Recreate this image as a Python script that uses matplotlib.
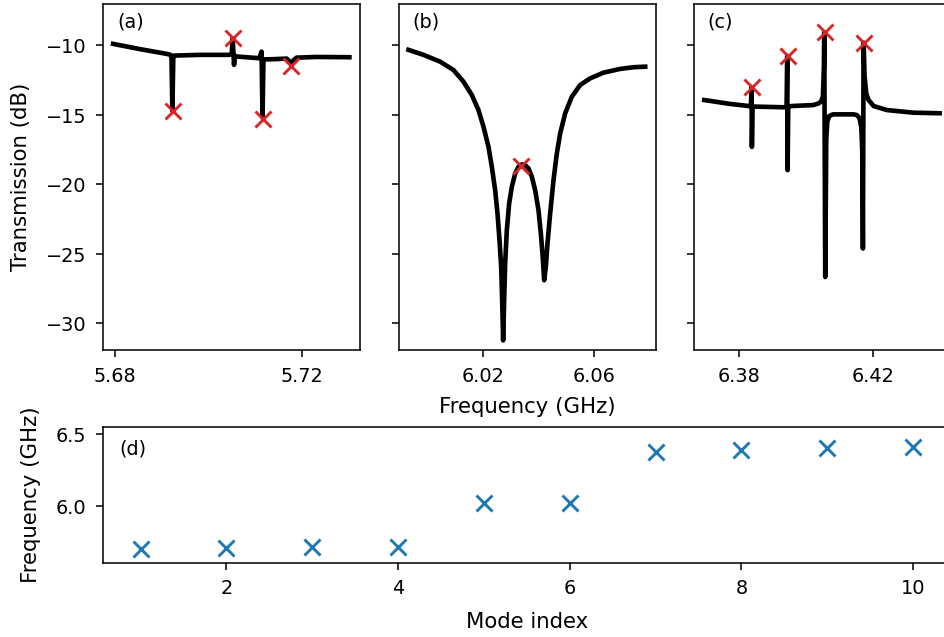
"""
Transmission spectra (a)-(c) and mode frequencies (d)
"""
import matplotlib
matplotlib.use('Agg')
import matplotlib.pyplot as plt

# (a) spectrum around 5.7 GHz
f_a = [5.6796, 5.6854, 5.6911, 5.6919, 5.6921, 5.6923, 5.6925, 5.6929, 5.6982,
       5.7043, 5.7050, 5.7052, 5.7054, 5.7055, 5.7057, 5.7061, 5.7109, 5.7114,
       5.7116, 5.7118, 5.7132, 5.7168, 5.7176, 5.7189, 5.7232, 5.7302]
t_a = [-9.89, -10.27, -10.61, -10.68, -10.75, -14.7, -10.75, -10.73, -10.68,
       -10.68, -10.65, -9.5, -10.7, -11.4, -10.75, -10.8, -10.92, -10.45,
       -15.2, -11.0, -11.0, -10.95, -11.24, -10.88, -10.83, -10.85]

# (b) spectrum around 6.03 GHz
f_b = [5.99328, 5.99867, 6.00466, 6.00945, 6.01304, 6.01604, 6.01843, 6.02023,
       6.02202, 6.02322, 6.02442, 6.02526, 6.02598, 6.02658, 6.02694, 6.02729,
       6.02765, 6.02801, 6.02861, 6.02945, 6.03041, 6.03161, 6.0328, 6.0340,
       6.0352, 6.0364, 6.0376, 6.03879, 6.03999, 6.04083, 6.04143, 6.04203,
       6.04263, 6.04322, 6.04418, 6.04538, 6.04658, 6.04778, 6.04957, 6.05197,
       6.05496, 6.05856, 6.06335, 6.06934, 6.07413, 6.07832]
t_b = [-10.32, -10.68, -11.17, -11.77, -12.61, -13.57, -14.65, -15.85,
       -17.29, -18.73, -20.41, -22.09, -24.01, -25.93, -28.34, -31.22,
       -28.34, -25.69, -23.29, -21.37, -20.17, -19.21, -18.73, -18.56,
       -18.61, -18.85, -19.45, -20.41, -21.85, -23.53, -24.97, -26.89,
       -25.93, -24.25, -22.09, -19.69, -17.77, -16.33, -14.89, -13.69,
       -12.85, -12.37, -11.96, -11.69, -11.57, -11.53]

# (c) spectrum around 6.4 GHz
f_c = [6.3695, 6.3773, 6.3828, 6.3835, 6.3837, 6.3838, 6.3840, 6.3863, 6.3933,
       6.3942, 6.3944, 6.3945, 6.3947, 6.3958, 6.4023, 6.4038, 6.4045, 6.4051,
       6.4054, 6.4055, 6.4058, 6.4061, 6.4064, 6.4070, 6.4081, 6.4143, 6.4153,
       6.4161, 6.4166, 6.4169, 6.4171, 6.4173, 6.4176, 6.4181, 6.4188, 6.4203,
       6.4243, 6.4323, 6.4401]
t_c = [-13.93, -14.21, -14.36, -14.4, -13.0, -17.3, -14.4, -14.41, -14.45,
       -14.45, -10.76, -18.97, -14.4, -14.36, -14.29, -14.17, -14.05, -13.69,
       -11.53, -9.05, -26.66, -16.81, -15.49, -15.08, -14.96, -14.96, -15.01,
       -15.25, -15.85, -17.53, -24.61, -9.80, -12.25, -13.45, -13.93, -14.36,
       -14.65, -14.84, -14.88]

# picked resonances (red crosses)
peaks_fa = [5.6924, 5.7053, 5.7117, 5.7176]
peaks_ta = [-14.72, -9.48, -15.3, -11.48]
peaks_fb = [6.0338]
peaks_tb = [-18.66]
peaks_fc = [6.3838, 6.3945, 6.4056, 6.4173]
peaks_tc = [-12.97, -10.76, -9.05, -9.80]

# (d) mode frequencies
mode_index = [1, 2, 3, 4, 5, 6, 7, 8, 9, 10]
mode_freq = [5.698, 5.705, 5.712, 5.716, 6.023, 6.023, 6.378, 6.390, 6.401, 6.413]

dpi = 139
plt.rcParams['xtick.major.pad'] = 5.0
plt.rcParams['ytick.major.pad'] = 5.0
fig = plt.figure(figsize=(944.3 / dpi, 637.3 / dpi), dpi=dpi)
W, H = 944.0, 637.0

def box(x0, x1, y0, y1):
    # pixel box -> figure fraction
    return [x0 / W, 1 - y1 / H, (x1 - x0) / W, (y1 - y0) / H]

ax_a = fig.add_axes(box(103, 360, 4, 350))
ax_b = fig.add_axes(box(398.5, 655.5, 4, 350), sharey=ax_a)
ax_c = fig.add_axes(box(693.5, 950.5, 4, 350), sharey=ax_a)
ax_d = fig.add_axes(box(103, 950.5, 426.7, 562.7))

lw = 2.4
ax_a.plot(f_a, t_a, color='black', lw=lw)
ax_b.plot(f_b, t_b, color='black', lw=lw)
ax_c.plot(f_c, t_c, color='black', lw=lw)

ax_a.plot(peaks_fa, peaks_ta, 'x', color='#d62728', ms=8, mew=1.5)
ax_b.plot(peaks_fb, peaks_tb, 'x', color='#d62728', ms=8, mew=1.5)
ax_c.plot(peaks_fc, peaks_tc, 'x', color='#d62728', ms=8, mew=1.5)

ax_a.set_xlim(5.67745, 5.7325)
ax_b.set_xlim(5.98974, 6.0821)
ax_c.set_xlim(6.36635, 6.44346)
ax_a.set_ylim(-31.9, -7.0)

ax_a.set_xticks([5.68, 5.72])
ax_b.set_xticks([6.02, 6.06])
ax_c.set_xticks([6.38, 6.42])
ax_a.set_yticks([-10, -15, -20, -25, -30])
ax_b.tick_params(labelleft=False)
ax_c.tick_params(labelleft=False)

ax_a.set_ylabel('Transmission (dB)', fontsize=11, labelpad=8)
ax_b.set_xlabel('Frequency (GHz)', fontsize=11, labelpad=6)

for ax, lab in zip([ax_a, ax_b, ax_c], ['(a)', '(b)', '(c)']):
    ax.text(0.055, 0.947, lab, transform=ax.transAxes, ha='left', va='center')

ax_d.plot(mode_index, mode_freq, 'x', color='#1f77b4', ms=8, mew=1.5, ls='none')
ax_d.set_xlim(0.563, 10.44)
ax_d.set_ylim(5.604, 6.553)
ax_d.set_xticks([2, 4, 6, 8, 10])
ax_d.set_yticks([6.0, 6.5])
ax_d.set_xlabel('Mode index', fontsize=11, labelpad=7)
ax_d.set_ylabel('Frequency (GHz)', fontsize=11, labelpad=8)
ax_d.text(0.0195, 0.836, '(d)', transform=ax_d.transAxes, ha='left', va='center')

fig.savefig('out.png', dpi=dpi)
